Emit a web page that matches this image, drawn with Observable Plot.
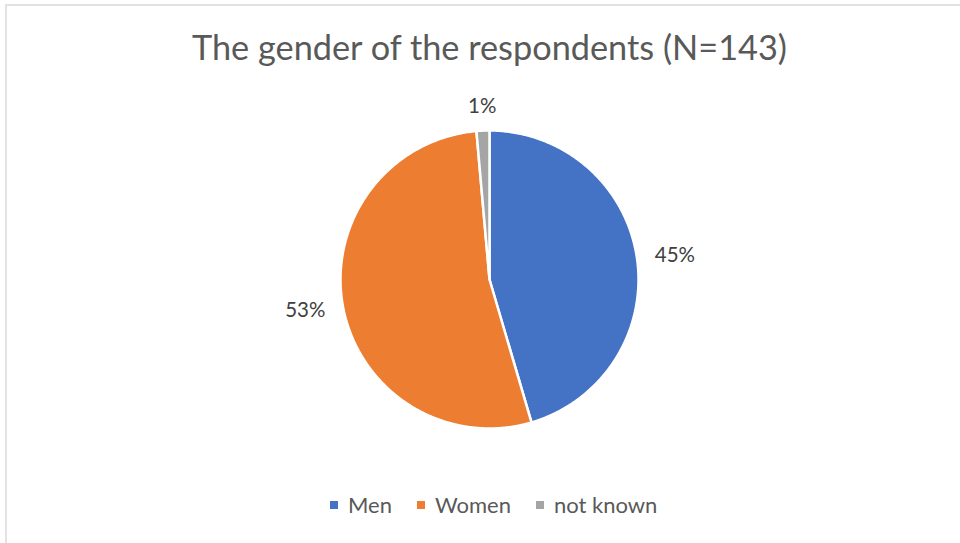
<!DOCTYPE html>
<html><head><meta charset="utf-8">
<script src="https://cdn.jsdelivr.net/npm/d3@7"></script>
<script src="https://cdn.jsdelivr.net/npm/@observablehq/plot@0.6"></script>
<style>
html,body{margin:0;padding:0;background:#fff;}
#wrap{position:relative;width:960px;height:543px;overflow:hidden;font-family:Lato,sans-serif;}
#frame{position:absolute;left:5px;top:4px;width:1000px;height:700px;border-top:2px solid #e2e2e2;border-left:2px solid #e2e2e2;box-sizing:border-box;}
#title{position:absolute;left:0;width:979px;top:27px;text-align:center;font-size:34.3px;color:#595959;line-height:40px;white-space:nowrap;}
#chart{position:absolute;left:0;top:0;}
#legend{position:absolute;left:330px;top:488px;}
.lg-swatch{margin-right:25px !important;}
.lg-swatch > svg{margin-right:10px !important;}
</style>
</head><body>
<div id="wrap">
  <div id="frame"></div>
  <div id="chart"></div>
  <div id="title"></div>
  <div id="legend"></div>
</div>
<script>
const title = "The gender of the respondents (N=143)";
const categories = ["Men", "Women", "not known"];
const counts = [65, 76, 2];
const colors = ["#4472C4", "#ED7D31", "#A5A5A5"];

const total = d3.sum(counts);
const pct = d3.format(".0%");
const slices = d3.pie().sort(null)(counts).map((a, i) => ({
  name: categories[i], count: counts[i], start: a.startAngle, end: a.endAngle,
  mid: (a.startAngle + a.endAngle) / 2, label: pct(counts[i] / total)
}));

// outline points of each wedge (centre + arc samples), in unit-radius coordinates
const wedgePts = slices.flatMap(s => {
  const n = Math.max(2, Math.ceil((s.end - s.start) / 0.01));
  const pts = [{name: s.name, x: 0, y: 0}];
  for (let k = 0; k <= n; k++) {
    const a = s.start + (s.end - s.start) * k / n;
    pts.push({name: s.name, x: Math.sin(a), y: Math.cos(a)});
  }
  return pts;
});

const R = 149;          // pixels per unit radius
const cx = 489, cy = 279;
const W = 960, H = 543;
const lab = 1 + 18 / R;
const labels = slices.map(s => ({...s, x: Math.sin(s.mid) * lab, y: Math.cos(s.mid) * lab}));

document.getElementById("title").textContent = title;

const fs = 20.5;
const chart = Plot.plot({
  width: W, height: H, margin: 0,
  x: {domain: [-cx / R, (W - cx) / R], axis: null},
  y: {domain: [-(H - cy) / R, cy / R], axis: null},
  color: {domain: categories, range: colors},
  style: {background: "transparent", fontFamily: "Lato, sans-serif"},
  marks: [
    Plot.line(wedgePts, {x: "x", y: "y", z: "name", fill: "name", stroke: "white", strokeWidth: 2.5, strokeLinejoin: "round", curve: "linear-closed"}),
    Plot.text(labels.filter(d => Math.sin(d.mid) > 0.5), {x: "x", y: "y", text: "label", textAnchor: "start", fontSize: fs, fill: "#404040"}),
    Plot.text(labels.filter(d => Math.sin(d.mid) < -0.5), {x: "x", y: "y", text: "label", textAnchor: "end", fontSize: fs, fill: "#404040"}),
    Plot.text(labels.filter(d => Math.abs(Math.sin(d.mid)) <= 0.5), {x: "x", y: "y", text: "label", textAnchor: "middle", lineAnchor: "bottom", fontSize: fs, fill: "#404040"})
  ]
});
document.getElementById("chart").appendChild(chart);

const legend = Plot.legend({
  color: {domain: categories, range: colors},
  legend: "swatches", swatchSize: 8, className: "lg",
  style: {fontSize: "22px", fontFamily: "Lato, sans-serif", color: "#595959", background: "transparent"}
});
document.getElementById("legend").appendChild(legend);
</script>
</body></html>
